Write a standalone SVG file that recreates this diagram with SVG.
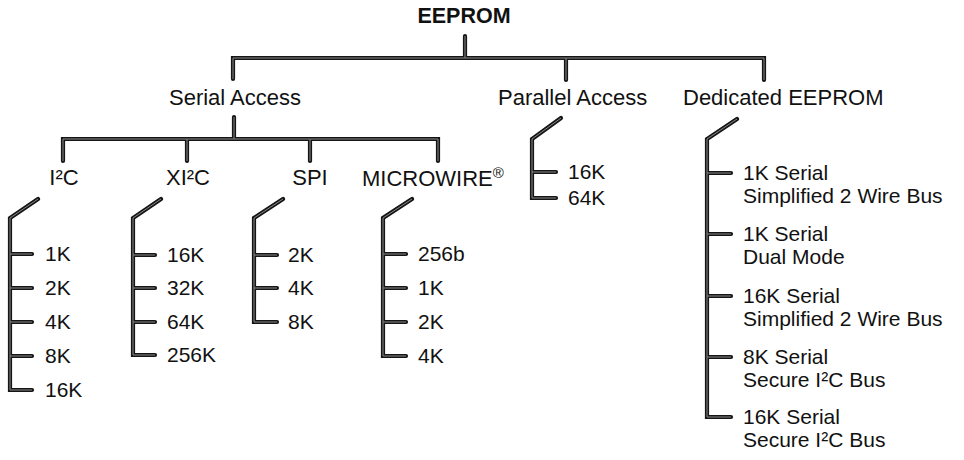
<svg xmlns="http://www.w3.org/2000/svg" xmlns:xlink="http://www.w3.org/1999/xlink" width="964" height="460" viewBox="0 0 964 460">
<style>
text{font-family:"Liberation Sans",Arial,sans-serif;fill:#111}
.title{font-size:21.5px;font-weight:bold}
.cat{font-size:22px}
.item{font-size:21px}
.wire-outer{fill:none;stroke:#151515;stroke-width:4.2;stroke-linecap:round;stroke-linejoin:miter}
.wire-inner{fill:none;stroke:#8a8a8a;stroke-width:1;stroke-linecap:butt;stroke-linejoin:miter}
</style>
<defs>
<g id="wires">
<path d="M465 36V58"/>
<path d="M233 79V58H764V80"/>
<path d="M566 58V80"/>
<path d="M234 117V139"/>
<path d="M63 161V139H438V161"/>
<path d="M187 139V161"/>
<path d="M310 139V161"/>
<path d="M38 199L10 218V390H32M10 254H32M10 288H32M10 322H32M10 356H32"/>
<path d="M161 199L133 218V355H155M133 255H155M133 288H155M133 322H155"/>
<path d="M283 199L254 218V322H277M254 255H277M254 288H277"/>
<path d="M412 199L383 218V356H406M383 254H406M383 288H406M383 322H406"/>
<path d="M561 118L532 139V198H556M532 172H556"/>
<path d="M737 119L707 139V417H731M707 173H731M707 234H731M707 296H731M707 357H731"/>
</g>
</defs>
<g id="connectors">
<use xlink:href="#wires" class="wire-outer"/>
<use xlink:href="#wires" class="wire-inner"/>
</g>
<g id="eeprom"><text class="title" x="464" y="23" text-anchor="middle">EEPROM</text></g>
<g id="serial-access"><text class="cat" x="235" y="105" text-anchor="middle">Serial Access</text></g>
<g id="parallel-access"><text class="cat" x="498" y="105">Parallel Access</text></g>
<g id="dedicated-eeprom"><text class="cat" x="683" y="105">Dedicated EEPROM</text></g>
<g id="i2c"><text class="cat" x="64" y="185" text-anchor="middle">I²C</text></g>
<g id="xi2c"><text class="cat" x="188" y="185" text-anchor="middle">XI²C</text></g>
<g id="spi"><text class="cat" x="310" y="185" text-anchor="middle">SPI</text></g>
<g id="microwire"><text class="cat" x="362" y="186">MICROWIRE<tspan font-size="15" dy="-8">®</tspan></text></g>
<g id="i2c-items">
<text class="item" x="45" y="261">1K</text>
<text class="item" x="45" y="295">2K</text>
<text class="item" x="45" y="329">4K</text>
<text class="item" x="45" y="363">8K</text>
<text class="item" x="45" y="397">16K</text>
</g>
<g id="xi2c-items">
<text class="item" x="167" y="262">16K</text>
<text class="item" x="167" y="295">32K</text>
<text class="item" x="167" y="329">64K</text>
<text class="item" x="167" y="362">256K</text>
</g>
<g id="spi-items">
<text class="item" x="288" y="262">2K</text>
<text class="item" x="288" y="295">4K</text>
<text class="item" x="288" y="329">8K</text>
</g>
<g id="microwire-items">
<text class="item" x="418" y="261">256b</text>
<text class="item" x="418" y="295">1K</text>
<text class="item" x="418" y="329">2K</text>
<text class="item" x="418" y="363">4K</text>
</g>
<g id="parallel-items">
<text class="item" x="568" y="179">16K</text>
<text class="item" x="568" y="205">64K</text>
</g>
<g id="dedicated-items">
<text class="item" x="743" y="180">1K Serial<tspan x="743" dy="23">Simplified 2 Wire Bus</tspan></text>
<text class="item" x="743" y="241">1K Serial<tspan x="743" dy="23">Dual Mode</tspan></text>
<text class="item" x="743" y="303">16K Serial<tspan x="743" dy="23">Simplified 2 Wire Bus</tspan></text>
<text class="item" x="743" y="364">8K Serial<tspan x="743" dy="23">Secure I²C Bus</tspan></text>
<text class="item" x="743" y="424">16K Serial<tspan x="743" dy="23">Secure I²C Bus</tspan></text>
</g>
</svg>
